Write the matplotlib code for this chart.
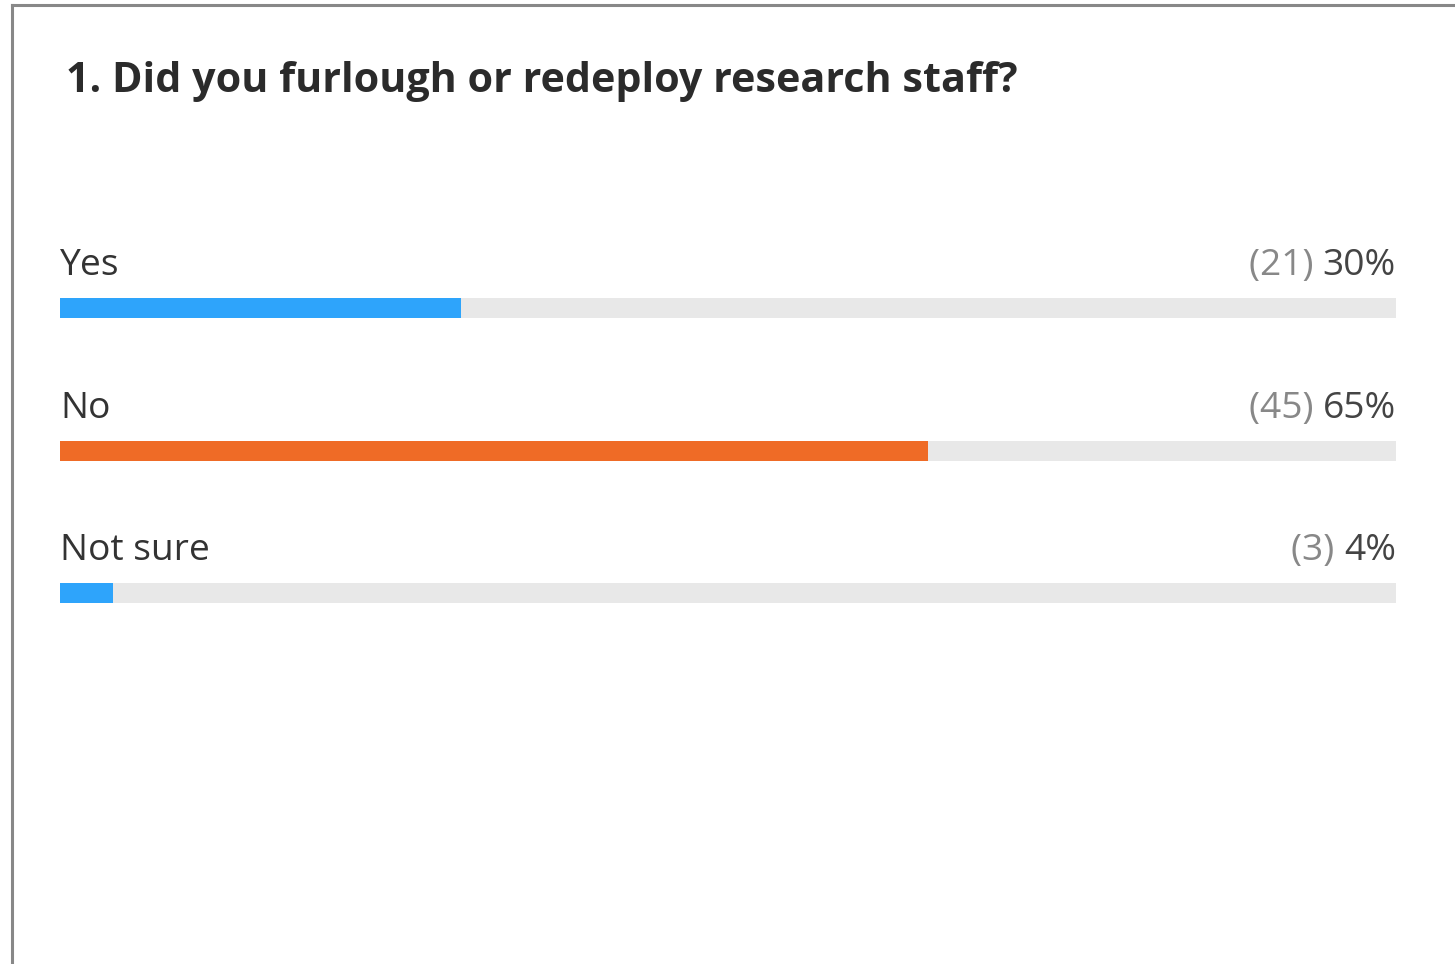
import matplotlib
matplotlib.use("Agg")
import matplotlib.pyplot as plt

title = "1. Did you furlough or redeploy research staff?"
categories = ["Yes", "No", "Not sure"]
counts = [21, 45, 3]
percents = [30, 65, 4]
colors = ["#2EA4FB", "#EF6B26", "#2EA4FB"]
track_color = "#E8E8E8"

W, H = 1455, 964
fig = plt.figure(figsize=(W / 100, H / 100), dpi=100)
fig.patch.set_facecolor("white")

# frame border (open on right / bottom)
fig.add_artist(plt.Line2D([12 / W, 12 / W], [0, 1 - 5 / H], color="#888888", lw=2.2, transform=fig.transFigure))
fig.add_artist(plt.Line2D([12 / W, 1], [1 - 5 / H, 1 - 5 / H], color="#888888", lw=2.2, transform=fig.transFigure))

fig.text(66 / W, 1 - 92 / H, title, fontsize=29.7, fontweight="bold", family="Open Sans",
         color="#2B2B2B", va="baseline", ha="left")

row_px = 142.5
top_px = 308 - row_px / 2
bot_px = 593 + row_px / 2
ax = fig.add_axes([60 / W, 1 - bot_px / H, 1336 / W, (bot_px - top_px) / H])
ax.set_xlim(0, 100)
ax.set_ylim(len(categories) - 0.5, -0.5)
ax.axis("off")

bar_h = 20 / row_px
lab_off = 33 / row_px
ys = list(range(len(categories)))
ax.barh(ys, [100] * len(ys), height=bar_h, color=track_color, left=0)
ax.barh(ys, percents, height=bar_h, color=colors, left=0)

fs = 26.7
for y, cat, c, p in zip(ys, categories, counts, percents):
    ax.text(0.0, y - lab_off, cat, fontsize=fs, family="Open Sans", color="#333333",
            va="baseline", ha="left")
    t = ax.text(100, y - lab_off, f"{p}%", fontsize=fs, family="Open Sans", color="#444444",
                va="baseline", ha="right")
    fig.canvas.draw()
    bb = t.get_window_extent()
    inv = ax.transData.inverted()
    x_left = inv.transform((bb.x0, bb.y0))[0]
    ax.text(x_left, y - lab_off, f"({c}) ", fontsize=fs, family="Open Sans", color="#888888",
            va="baseline", ha="right")

fig.savefig("out.png", dpi=100, facecolor="white")
